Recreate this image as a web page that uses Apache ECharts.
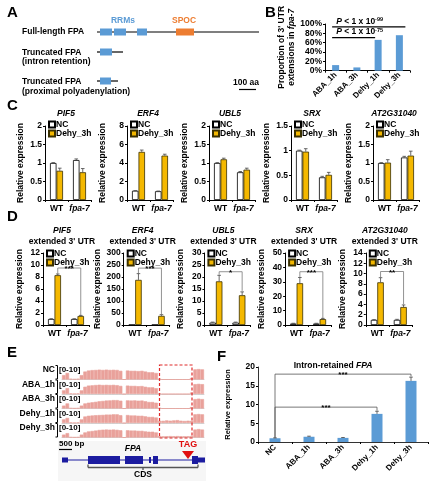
<!DOCTYPE html>
<html>
<head>
<meta charset="utf-8">
<script src="https://cdn.jsdelivr.net/npm/echarts@6/dist/echarts.min.js"></script>
<style>
html, body { margin: 0; padding: 0; background: #fff; }
#chart { width: 436px; height: 488px; }
</style>
</head>
<body>
<div id="chart"></div>
<script>
// ---- data ----
// B: proportion of 3' UTR extensions in fpa-7
const bCats = ['ABA_1h', 'ABA_3h', 'Dehy_1h', 'Dehy_3h'];
const bVals = [12, 7, 66, 76];
const bTests = [
    { from: 0, to: 3, level: 94, exp: '-99' },
    { from: 0, to: 2, level: 71, exp: '-75' }
];

// C: relative expression
const groups = ['WT', 'fpa-7'];
const cGenes = ['PIF5', 'ERF4', 'UBL5', 'SRX', 'AT2G31040'];
const cMax = [2, 8, 2, 1.5, 2];
const cStep = [0.5, 2, 0.5, 0.5, 0.5];
const cNC = [[1.0, 1.08], [1.0, 0.95], [1.0, 0.75], [1.0, 0.46], [1.0, 1.15]];
const cNCErr = [[0.01, 0.03], [0.02, 0.02], [0.01, 0.02], [0.01, 0.02], [0.01, 0.03]];
const cDehy = [[0.79, 0.75], [5.2, 4.8], [1.1, 0.82], [0.98, 0.51], [1.01, 1.2]];
const cDehyErr = [[0.07, 0.1], [0.2, 0.15], [0.03, 0.04], [0.06, 0.05], [0.08, 0.12]];

// D: extended 3' UTR
const dMax = [12, 300, 30, 50, 14];
const dStep = [2, 50, 5, 10, 2];
const dNC = [[1, 1], [1, 1], [1, 1], [1, 1], [1, 1]];
const dNCErr = [[0.05, 0.05], [0.5, 0.5], [0.2, 0.2], [0.2, 0.2], [0.05, 0.1]];
const dDehy = [[8.3, 1.5], [188, 38], [18.2, 12.4], [29, 4.1], [8.3, 3.5]];
const dDehyErr = [[0.2, 0.1], [26, 5], [2.5, 1.4], [4, 0.5], [0.9, 0.4]];
const dSigLevel = [9.5, 237, 22.2, 37, 10.4];
const dSigLabel = ['***', '***', '*', '***', '**'];

// E: coverage tracks (0-10)
const eTracks = ['NC', 'ABA_1h', 'ABA_3h', 'Dehy_1h', 'Dehy_3h'];
const eNC = [3, 4.5, 0.5, 0.3, 0.5, 3, 5.5, 6.2, 6.5, 6.6, 6.8, 6.6, 6.8, 6.6, 6.7, 6.6, 6, 0, 6.2, 6, 6, 5.8, 6, 5.5, 5, 5, 4.5, 0.5, 0, 0, 0, 0, 0, 0, 0, 0, 1, 7, 7.2, 7];
const eABA1 = [2.5, 4, 0.4, 0.2, 0.4, 2.5, 5, 5.8, 6, 6.2, 6.4, 6.2, 6.3, 6.2, 6.3, 6.1, 5.6, 0, 5.8, 5.6, 5.6, 5.4, 5.5, 5, 4.6, 4.6, 4, 0.4, 0, 0, 0, 0, 0, 0, 0, 0, 1, 6.8, 7, 6.8];
const eABA3 = [2, 3.5, 0.3, 0.2, 0.3, 2, 3.5, 4, 4.3, 4.6, 5, 5.2, 5.5, 5.6, 5.8, 5.8, 5.4, 0, 5.6, 5.5, 5.6, 5.4, 5.5, 5, 4.5, 4.5, 4, 0.4, 0, 0, 0, 0, 0, 0, 0, 0, 1, 6.5, 6.8, 6.5];
const eDehy1 = [2.5, 3.5, 0.4, 0.2, 0.4, 2.5, 4.5, 5, 5.2, 5.4, 5.5, 5.6, 5.8, 5.8, 6, 6, 5.4, 0, 5.5, 5.2, 5.2, 5, 5, 4.6, 4.2, 4.2, 3.8, 1.5, 1.5, 1.8, 1.6, 1.8, 2, 1.6, 1.4, 1.6, 1.5, 6, 6.2, 6];
const eDehy3 = [2, 3, 0.3, 0.2, 0.3, 2, 3.5, 4.2, 4.5, 4.8, 5.2, 5.4, 5.5, 5.4, 5.5, 5.3, 5, 0, 5, 4.8, 4.8, 4.6, 4.6, 4.2, 4, 4, 3.5, 1, 0.8, 0.9, 1, 0.9, 1, 0.9, 0.8, 0.9, 1, 5.5, 5.8, 5.5];
const eCoverage = [eNC, eABA1, eABA3, eDehy1, eDehy3];

// F: intron-retained FPA
const fCats = ['NC', 'ABA_1h', 'ABA_3h', 'Dehy_1h', 'Dehy_3h'];
const fVals = [1.0, 1.4, 1.1, 7.5, 16.3];
const fErr = [0.1, 0.15, 0.1, 0.7, 1.0];
const fTests = [
    { from: 0, to: 4, level: 18.1 },
    { from: 0, to: 3, level: 9.3 }
];

// ---- helpers ----
const FONT = 'Liberation Sans';
const BLUE = '#5b9bd5', GOLD = '#f4b800', PINK = '#e9a19b', NAVY = '#1c1ca0';

const grid = [], xAxis = [], yAxis = [], series = [], legend = [], graphic = [];

function txt(x, y, text, o) {
    graphic.push({
        type: 'text', x: x, y: y, z: 20, silent: true,
        style: Object.assign({
            text: text, fontFamily: FONT, fontWeight: 'bold', fontSize: 8.5, fill: '#000',
            align: 'left', verticalAlign: 'middle'
        }, o || {})
    });
}
function line(x1, y1, x2, y2, color, w, dash) {
    graphic.push({ type: 'line', z: 15, silent: true, shape: { x1, y1, x2, y2 },
        style: { stroke: color, lineWidth: w || 1, lineDash: dash || null } });
}
function box(x, y, w, h, fill, extra) {
    graphic.push({ type: 'rect', z: 15, silent: true, shape: { x, y, width: w, height: h },
        style: Object.assign({ fill: fill }, extra || {}) });
}

const labelStyle = { fontFamily: FONT, fontWeight: 'bold', fontSize: 8.5, color: '#000' };
const italicRich = { i: { fontFamily: FONT, fontWeight: 'bold', fontStyle: 'italic', fontSize: 8.5, color: '#000' } };

function catAxis(gi, data, extra) {
    return Object.assign({
        type: 'category', gridIndex: gi, data: data,
        axisLine: { lineStyle: { color: '#000', width: 1 } },
        axisTick: { show: true, length: 2, lineStyle: { color: '#000' } },
        axisLabel: Object.assign({ margin: 4, interval: 0, rich: italicRich,
            formatter: v => v === 'fpa-7' ? '{i|fpa-7}' : v }, labelStyle)
    }, extra || {});
}
function valAxis(gi, max, step, name, gap, extra) {
    return Object.assign({
        type: 'value', gridIndex: gi, min: 0, max: max, interval: step,
        splitLine: { show: false },
        axisLine: { show: true, lineStyle: { color: '#000' } },
        axisTick: { show: true, length: 2, lineStyle: { color: '#000' } },
        axisLabel: Object.assign({ margin: 3 }, labelStyle),
        name: name, nameLocation: 'middle', nameGap: gap,
        nameTextStyle: Object.assign({}, labelStyle)
    }, extra || {});
}
function errSeries(gi, data, off) {
    return {
        type: 'custom', xAxisIndex: gi, yAxisIndex: gi, data: data, z: 5, silent: true,
        encode: { x: 0, y: 1 },
        renderItem: function (params, api) {
            const top = api.coord([api.value(0), api.value(1) + api.value(2)]);
            const base = api.coord([api.value(0), api.value(1)]);
            const x = top[0] + off;
            return { type: 'group', children: [
                { type: 'line', shape: { x1: x, y1: base[1], x2: x, y2: top[1] }, style: { stroke: '#444', lineWidth: 0.8 } },
                { type: 'line', shape: { x1: x - 1.8, y1: top[1], x2: x + 1.8, y2: top[1] }, style: { stroke: '#444', lineWidth: 0.8 } }
            ] };
        }
    };
}
function bracketSeries(gi, from, to, level, lb, rb, label, off, color) {
    return {
        type: 'custom', xAxisIndex: gi, yAxisIndex: gi, z: 6, silent: true,
        encode: { x: 0, y: 1 }, data: [[from, level, to, lb, rb]],
        renderItem: function (params, api) {
            const a = api.coord([api.value(0), api.value(1)]);
            const b = api.coord([api.value(2), api.value(1)]);
            const pl = api.coord([api.value(0), api.value(3)]);
            const pr = api.coord([api.value(2), api.value(4)]);
            const x1 = a[0] + off, x2 = b[0] + off;
            return { type: 'group', children: [
                { type: 'polyline', shape: { points: [[x1, pl[1]], [x1, a[1]], [x2, a[1]], [x2, pr[1]]] },
                  style: { stroke: color, lineWidth: 0.8, fill: null } },
                { type: 'text', x: (x1 + x2) / 2, y: a[1] + 1,
                  style: { text: label, fontFamily: FONT, fontWeight: 'bold', fontSize: 8, fill: '#000', align: 'center', verticalAlign: 'middle' } }
            ] };
        }
    };
}
function pairBars(gi, nc, dehy) {
    series.push({ type: 'bar', name: 'NC', xAxisIndex: gi, yAxisIndex: gi, data: nc, barWidth: 6.5, barGap: '0%',
        itemStyle: { color: '#fff', borderColor: '#000', borderWidth: 0.8 } });
    series.push({ type: 'bar', name: 'Dehy_3h', xAxisIndex: gi, yAxisIndex: gi, data: dehy, barWidth: 6.5, barGap: '0%',
        itemStyle: { color: GOLD, borderColor: '#3a3000', borderWidth: 0.8 } });
}
function smallLegend(left, top) {
    legend.push({ data: ['NC', 'Dehy_3h'], orient: 'vertical', left: left, top: top, padding: 0,
        icon: 'rect', itemWidth: 6, itemHeight: 6, itemGap: 0, selectedMode: false,
        textStyle: Object.assign({ padding: [0, 0, 0, -4] }, labelStyle) });
}

// ---- panel letters ----
[['A', 7, 13], ['B', 265, 13], ['C', 7, 106], ['D', 7, 217], ['E', 7, 353], ['F', 217, 357]].forEach(p =>
    txt(p[1], p[2], p[0], { fontSize: 15 }));

// ---- A: protein diagrams ----
txt(22, 32, 'Full-length FPA');
line(97, 32, 259, 32, '#000', 1.2);
box(100, 28.5, 12, 7, BLUE); box(114, 28.5, 12, 7, BLUE); box(137, 28.5, 10, 7, BLUE);
box(176, 28.5, 18, 7, '#ed7d31');
txt(123, 21, 'RRMs', { fill: BLUE, align: 'center' });
txt(184, 21, 'SPOC', { fill: '#ed7d31', align: 'center' });
txt(22, 53, 'Truncated FPA');
txt(22, 62, '(intron retention)');
line(97, 52, 123, 52, '#000', 1.2); box(100, 48.5, 12, 7, BLUE);
txt(22, 82, 'Truncated FPA');
txt(22, 92, '(proximal polyadenylation)');
line(97, 81, 118, 81, '#000', 1.2); box(100, 77.5, 11, 7, BLUE);
txt(246, 83, '100 aa', { align: 'center' });
line(239, 89.5, 256, 89.5, '#000', 1.2);

// ---- B ----
{
    const gi = grid.length;
    grid.push({ left: 325, top: 24, width: 85, height: 46.7 });
    xAxis.push(catAxis(gi, bCats, { axisLabel: Object.assign({ margin: 3, interval: 0, rotate: 45 }, labelStyle, { fontSize: 8 }) }));
    yAxis.push(valAxis(gi, 100, 20, "Proportion of 3' UTR\nextensions in {i|fpa-7}", 23,
        { axisLabel: Object.assign({ margin: 3, formatter: '{value}%' }, labelStyle),
          nameTextStyle: Object.assign({ rich: italicRich, lineHeight: 10 }, labelStyle) }));
    series.push({ type: 'bar', xAxisIndex: gi, yAxisIndex: gi, data: bVals, barWidth: 7, itemStyle: { color: BLUE } });
    bTests.forEach(t => {
        series.push({
            type: 'custom', xAxisIndex: gi, yAxisIndex: gi, z: 6, silent: true, encode: { x: 0, y: 1 },
            data: [[t.from, t.level, t.to]],
            renderItem: function (params, api) {
                const a = api.coord([api.value(0), api.value(1)]);
                const b = api.coord([api.value(2), api.value(1)]);
                const x1 = a[0] - 3.5, x2 = t.to === 3 ? b[0] + 6 : b[0] - 3;
                return { type: 'group', children: [
                    { type: 'line', shape: { x1: x1, y1: a[1], x2: x2, y2: a[1] }, style: { stroke: '#000', lineWidth: 1.3 } },
                    { type: 'text', x: x1 + 4, y: a[1] - 1, style: {
                        text: '{p|P} < 1 x 10{s|' + t.exp + '}', fontFamily: FONT, fontWeight: 'bold', fontSize: 8.5, fill: '#000',
                        align: 'left', verticalAlign: 'bottom',
                        rich: { p: { fontFamily: FONT, fontWeight: 'bold', fontStyle: 'italic', fontSize: 8.5 },
                                s: { fontFamily: FONT, fontWeight: 'bold', fontSize: 5.5, verticalAlign: 'top' } } } }
                ] };
            }
        });
    });
}

// ---- C ----
cGenes.forEach((g, i) => {
    const gi = grid.length;
    const left = 45 + 82 * i;
    grid.push({ left: left, top: 126, width: 46, height: 74 });
    xAxis.push(catAxis(gi, groups));
    yAxis.push(valAxis(gi, cMax[i], cStep[i], 'Relative expression', 20));
    pairBars(gi, cNC[i], cDehy[i]);
    series.push(errSeries(gi, cNC[i].map((v, k) => [k, v, cNCErr[i][k]]), -3.25));
    series.push(errSeries(gi, cDehy[i].map((v, k) => [k, v, cDehyErr[i][k]]), 3.25));
    smallLegend(left + 3, 120);
    txt(left + 21, 114, g, { align: 'center', fontStyle: 'italic' });
});

// ---- D ----
cGenes.forEach((g, i) => {
    const gi = grid.length;
    const left = 43 + 80.7 * i;
    grid.push({ left: left, top: 253, width: 46, height: 72 });
    xAxis.push(catAxis(gi, groups));
    yAxis.push(valAxis(gi, dMax[i], dStep[i], 'Relative expression', 19));
    pairBars(gi, dNC[i], dDehy[i]);
    series.push(errSeries(gi, dNC[i].map((v, k) => [k, v, dNCErr[i][k]]), -3.25));
    series.push(errSeries(gi, dDehy[i].map((v, k) => [k, v, dDehyErr[i][k]]), 3.25));
    series.push(bracketSeries(gi, 0, 1, dSigLevel[i],
        dDehy[i][0] + dDehyErr[i][0] * 1.1, dDehy[i][1] + dDehyErr[i][1] * 1.3, dSigLabel[i], 3.25, '#777'));
    smallLegend(left + 3, 249);
    txt(left + 19, 231, g, { align: 'center', fontStyle: 'italic' });
    txt(left + 19, 241.5, "extended 3' UTR", { align: 'center' });
});

// ---- E: coverage tracks ----
const eTops = [365, 379.5, 394, 408.5, 423];
box(58, 441, 148, 40, '#f6f6f6', { opacity: 1 });
eTracks.forEach((t, i) => {
    const gi = grid.length;
    grid.push({ left: 62, top: eTops[i], width: 142, height: 14.5 });
    xAxis.push({ type: 'category', gridIndex: gi, data: eCoverage[i].map((v, k) => k),
        axisLine: { lineStyle: { color: '#c8c8c8', width: 0.8 } }, axisTick: { show: false }, axisLabel: { show: false } });
    yAxis.push({ type: 'value', gridIndex: gi, min: 0, max: 10, show: false });
    series.push({ type: 'bar', xAxisIndex: gi, yAxisIndex: gi, data: eCoverage[i], barCategoryGap: '0%',
        itemStyle: { color: PINK, borderColor: PINK, borderWidth: 0.6 }, silent: true });
    txt(55, eTops[i] + 5, t, { align: 'right' });
    txt(59, eTops[i] + 5, '[0-10]', { fontSize: 8 });
    line(57.5, eTops[i] + 0.5, 57.5, eTops[i] + 14, '#000', 1);
    line(55.5, eTops[i] + 0.5, 57.5, eTops[i] + 0.5, '#000', 1);
    line(55.5, eTops[i] + 14, 57.5, eTops[i] + 14, '#000', 1);
});
box(159.5, 365, 32.5, 73, null, { stroke: '#e02a2a', lineWidth: 1.2, lineDash: [3, 2], fill: 'none' });
// gene model
txt(59, 444, '500 bp', { fontSize: 8 });
line(59, 449.5, 72, 449.5, '#000', 1.2);
txt(133, 449, 'FPA', { align: 'center', fontStyle: 'italic' });
txt(188, 445, 'TAG', { align: 'center', fill: '#e01010', fontSize: 9 });
graphic.push({ type: 'polygon', z: 16, silent: true, shape: { points: [[182, 451], [194, 451], [188, 459]] }, style: { fill: '#e01010' } });
line(62, 460, 205, 460, NAVY, 1);
box(62, 457.5, 6, 5, NAVY);
box(88, 456, 32, 8, NAVY);
box(125, 456, 18, 8, NAVY);
box(149, 457, 2, 6, NAVY);
box(153, 456, 5, 8, NAVY);
box(192, 456, 6, 8, NAVY);
box(198, 457.5, 7, 5, NAVY);
line(88, 467.5, 198, 467.5, '#555', 1.3);
line(88, 464.5, 88, 467.5, '#555', 1.3);
line(198, 464.5, 198, 467.5, '#555', 1.3);
line(143, 467.5, 143, 470, '#555', 1.3);
txt(143, 475, 'CDS', { align: 'center' });

// ---- F ----
{
    const gi = grid.length;
    grid.push({ left: 258, top: 367, width: 170, height: 75 });
    xAxis.push(catAxis(gi, fCats, {
        axisLine: { lineStyle: { color: '#333', width: 1 } },
        axisLabel: Object.assign({ margin: 4, interval: 0, rotate: 45 }, labelStyle, { fontSize: 8 }) }));
    yAxis.push(valAxis(gi, 20, 5, 'Relative expression', 26, {
        axisLine: { show: true, lineStyle: { color: '#333' } },
        nameTextStyle: Object.assign({}, labelStyle, { fontSize: 7.5 }) }));
    series.push({ type: 'bar', xAxisIndex: gi, yAxisIndex: gi, data: fVals, barWidth: 11, itemStyle: { color: BLUE } });
    series.push(errSeries(gi, fVals.map((v, k) => [k, v, fErr[k]]), 0));
    fTests.forEach(t => series.push(bracketSeries(gi, t.from, t.to, t.level,
        fVals[t.from] + fErr[t.from], fVals[t.to] + fErr[t.to] * 1.2, '***', 0, '#555')));
    txt(333, 366, 'Intron-retained {i|FPA}', { align: 'center', rich: italicRich });
}

const chart = echarts.init(document.getElementById('chart'));
chart.setOption({
    animation: false,
    textStyle: { fontFamily: FONT },
    grid: grid, xAxis: xAxis, yAxis: yAxis, series: series, legend: legend, graphic: graphic
});
</script>
</body>
</html>
